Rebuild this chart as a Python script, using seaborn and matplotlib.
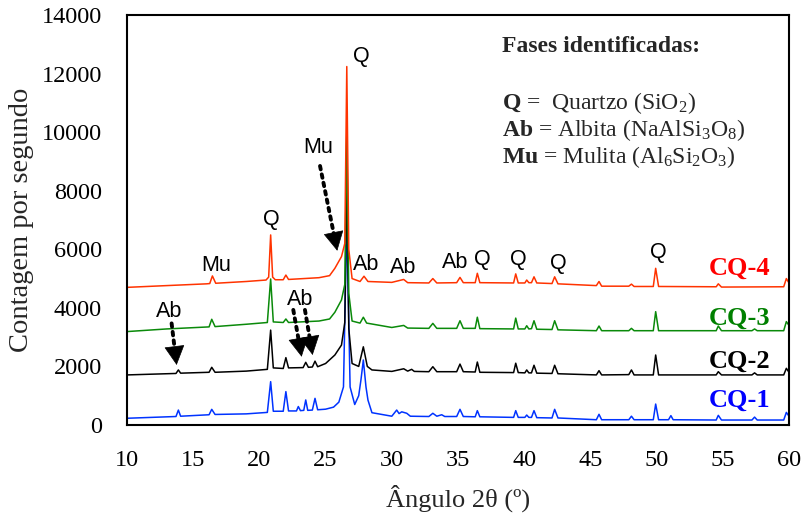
import matplotlib
matplotlib.use("Agg")
import matplotlib.pyplot as plt
import seaborn as sns
import pandas as pd
import numpy as np

# ---------------- data (vertices) ----------------
cq1_theta = [10.0, 13.7, 13.88, 14.05, 16.2, 16.4, 16.65, 19.0, 20.6, 20.85, 21.05, 21.8, 22.0, 22.2,
             22.8, 22.94, 23.1, 23.35, 23.5, 23.65, 24.0, 24.2, 24.4, 25.0, 25.6, 26.0, 26.35, 26.6,
             26.85, 27.2, 27.5, 27.67, 27.85, 28.05, 28.2, 28.5, 30.0, 30.37, 30.55, 30.75, 31.13,
             31.4, 32.8, 33.1, 33.4, 33.77, 34.0, 34.9, 35.15, 35.4, 36.3, 36.46, 36.65, 39.2, 39.36,
             39.55, 40.05, 40.19, 40.35, 40.55, 40.74, 40.95, 42.1, 42.3, 42.55, 45.45, 45.65, 45.85,
             47.9, 48.1, 48.3, 49.75, 49.93, 50.15, 50.9, 51.08, 51.25, 54.5, 54.66, 54.9, 57.2, 57.4,
             57.6, 59.6, 59.8, 60.0]
cq1_counts = [230, 290, 510, 300, 350, 535, 360, 380, 430, 1480, 470, 470, 1140, 480,
              480, 630, 490, 500, 855, 500, 510, 910, 520, 540, 610, 780, 1300, 7000,
              1300, 700, 1000, 1540, 2220, 1300, 850, 420, 300, 510, 390, 450, 400,
              300, 290, 400, 300, 350, 290, 290, 535, 290, 280, 490, 280, 260, 490,
              260, 260, 340, 260, 260, 490, 250, 240, 535, 240, 180, 365, 180,
              180, 300, 180, 180, 715, 180, 180, 320, 180, 170, 330, 170, 170, 270,
              170, 170, 430, 300]

cq2_theta = [10.0, 13.7, 13.88, 14.05, 16.2, 16.4, 16.65, 19.0, 20.6, 20.85, 21.05, 21.8, 22.0, 22.2,
             23.3, 23.5, 23.7, 24.0, 24.2, 24.4, 25.0, 25.7, 26.2, 26.45, 26.6, 26.75, 27.0, 27.5,
             27.85, 28.15, 28.5, 30.0, 30.9, 31.2, 31.5, 31.7, 32.8, 33.1, 33.4, 34.9, 35.15, 35.4,
             36.3, 36.46, 36.65, 39.2, 39.36, 39.55, 40.05, 40.19, 40.35, 40.55, 40.74, 40.95, 42.1,
             42.3, 42.55, 45.45, 45.65, 45.85, 47.9, 48.1, 48.3, 49.75, 49.93, 50.15, 54.5, 54.66,
             54.9, 57.2, 57.4, 57.6, 59.6, 59.8, 60.0]
cq2_counts = [1710, 1760, 1880, 1770, 1800, 1970, 1800, 1840, 1900, 3240, 1950, 1930, 2300, 1950,
              1960, 2140, 1970, 1980, 2180, 1990, 2100, 2390, 2730, 3500, 8500, 3300, 2100, 2000,
              2670, 2000, 1880, 1830, 1920, 1840, 1900, 1830, 1820, 1990, 1820, 1820, 2080, 1820,
              1810, 2150, 1800, 1790, 2110, 1790, 1780, 1880, 1780, 1780, 2040, 1770, 1760,
              2040, 1750, 1710, 1855, 1710, 1720, 1880, 1710, 1710, 2390, 1710, 1710, 1820,
              1710, 1710, 1780, 1710, 1710, 1935, 1800]

cq3_theta = [10.0, 13.0, 16.2, 16.4, 16.65, 19.0, 20.6, 20.85, 21.05, 21.8, 22.0, 22.2, 24.5, 25.3,
             25.7, 26.2, 26.45, 26.6, 26.75, 27.0, 27.6, 27.85, 28.1, 30.0, 30.9, 31.2, 32.8, 33.1,
             33.4, 34.9, 35.15, 35.4, 36.3, 36.46, 36.65, 39.2, 39.36, 39.55, 40.05, 40.19, 40.35,
             40.55, 40.74, 40.95, 42.1, 42.3, 42.55, 45.45, 45.65, 45.85, 47.9, 48.1, 48.3, 49.75,
             49.93, 50.15, 54.5, 54.66, 54.9, 57.2, 57.4, 57.6, 59.6, 59.8, 60.0]
cq3_counts = [3190, 3280, 3350, 3610, 3360, 3440, 3500, 4985, 3520, 3500, 3620, 3500, 3550, 3620,
              3850, 4270, 4800, 10000, 4500, 3550, 3480, 3680, 3480, 3330, 3400, 3310, 3300, 3470,
              3300, 3300, 3560, 3300, 3300, 3680, 3290, 3280, 3650, 3280, 3280, 3390, 3280,
              3290, 3560, 3270, 3260, 3560, 3250, 3220, 3380, 3220, 3220, 3300, 3220, 3220,
              3870, 3220, 3220, 3380, 3220, 3220, 3280, 3220, 3220, 3530, 3400]

cq4_theta = [10.0, 13.0, 16.0, 16.25, 16.45, 16.7, 19.0, 20.5, 20.7, 20.85, 21.0, 21.2, 21.8, 22.0,
             22.2, 24.5, 25.3, 25.7, 26.2, 26.45, 26.6, 26.75, 27.0, 27.6, 27.9, 28.2, 30.0, 30.9,
             31.2, 32.8, 33.1, 33.4, 34.9, 35.15, 35.4, 36.3, 36.46, 36.65, 39.2, 39.36, 39.55,
             40.05, 40.19, 40.35, 40.55, 40.74, 40.95, 42.1, 42.3, 42.55, 45.45, 45.65, 45.85, 47.9,
             48.1, 48.3, 49.75, 49.93, 50.15, 54.5, 54.66, 54.9, 59.6, 59.8, 60.0]
cq4_counts = [4700, 4760, 4820, 4830, 5090, 4840, 4900, 4950, 5050, 6490, 5050, 4960, 4960, 5120,
              4970, 5030, 5100, 5350, 5750, 6200, 12240, 6000, 5000, 4900, 5080, 4900, 4870, 4970,
              4860, 4850, 5000, 4850, 4860, 5040, 4860, 4860, 5180, 4860, 4850, 5160, 4850,
              4850, 4950, 4860, 4860, 5060, 4850, 4830, 5060, 4820, 4760, 4900, 4740, 4740,
              4810, 4730, 4730, 5350, 4730, 4720, 4820, 4710, 4720, 5000, 4850]

series_names = ["CQ-1", "CQ-2", "CQ-3", "CQ-4"]
line_colors = ["#0033FF", "#000000", "#0A8A0A", "#FF3300"]
label_colors = ["#0000FF", "#000000", "#008000", "#FF0000"]

# peak labels: (text, 2theta, counts)
peak_labels = [("Mu", 16.72, 5270), ("Q", 20.88, 6830), ("Ab", 13.18, 3700), ("Ab", 23.07, 4100),
               ("Ab", 28.05, 5290), ("Mu", 24.43, 9280), ("Q", 27.67, 12400), ("Ab", 30.85, 5200),
               ("Ab", 34.82, 5360), ("Q", 36.8, 5460), ("Q", 39.58, 5460), ("Q", 42.55, 5320),
               ("Q", 50.1, 5690)]

# arrows: (start 2theta, start counts, tip 2theta, tip counts)
arrows = [(24.58, 8845, 25.88, 5950), (13.37, 3470, 13.75, 2050),
          (22.56, 3930, 23.19, 2330), (23.44, 3930, 24.02, 2390)]

# series name labels: 2theta of right edge, baseline counts
name_label_x = 58.56
name_label_y = [625, 1945, 3415, 5120]

# ---------------- build table ----------------
frames = []
for name, th, ct in zip(series_names,
                        [cq1_theta, cq2_theta, cq3_theta, cq4_theta],
                        [cq1_counts, cq2_counts, cq3_counts, cq4_counts]):
    frames.append(pd.DataFrame({"theta": th, "counts": ct, "serie": name}))
df = pd.concat(frames, ignore_index=True)

sns.set_theme(style="white")
plt.rcParams["font.family"] = ["Liberation Serif", "DejaVu Serif"]
plt.rcParams["mathtext.fontset"] = "custom"
plt.rcParams["mathtext.rm"] = "Liberation Serif"
plt.rcParams["mathtext.it"] = "Liberation Serif:italic"
plt.rcParams["mathtext.bf"] = "Liberation Serif:bold"

fig = plt.figure(figsize=(8.09, 5.14), dpi=100)
ax = fig.add_axes([127 / 809, 89 / 514, 662 / 809, 410 / 514])

sns.lineplot(data=df, x="theta", y="counts", hue="serie", hue_order=series_names,
             palette=line_colors, estimator=None, sort=False, linewidth=1.1,
             legend=False, ax=ax)

ax.set_xlim(10, 60)
ax.set_ylim(0, 14000)
ax.set_xticks(range(10, 61, 5))
ax.set_yticks(range(0, 14001, 2000))
ax.tick_params(axis="both", direction="in", length=5, width=1.2, labelsize=17.5,
               colors="black")
ax.tick_params(axis="x", pad=18)
ax.tick_params(axis="y", pad=18)
for s in ax.spines.values():
    s.set_visible(True)
    s.set_color("black")
    s.set_linewidth(1.5)

ax.set_xlabel("Ângulo 2θ (º)", fontsize=19)
ax.xaxis.label.set_va("baseline")
ax.xaxis.set_label_coords(0.5, (425 - 506.5) / 410)
ax.set_ylabel("Contagem por segundo", fontsize=20.5)
ax.yaxis.label.set_va("center")
ax.yaxis.set_label_coords((22 - 127) / 662, 0.5)

for txt, x, y in peak_labels:
    ax.text(x, y, txt, ha="center", va="baseline", fontsize=15.5,
            family=["Liberation Sans", "DejaVu Sans"], color="black")

# dotted arrows with solid triangular heads
fig.canvas.draw()
for x0, y0, x1, y1 in arrows:
    p0 = ax.transData.transform((x0, y0))
    p1 = ax.transData.transform((x1, y1))
    u = (p1 - p0) / np.hypot(*(p1 - p0))
    line_end = ax.transData.inverted().transform(p1 - u * 10)
    head_start = ax.transData.inverted().transform(p1 - u * 18)
    ax.annotate("", xy=tuple(line_end), xytext=(x0, y0),
                arrowprops=dict(arrowstyle="-", linestyle=(0, (0.9, 1.3)), lw=2.8,
                                color="black", shrinkA=0, shrinkB=0))
    ax.annotate("", xy=(x1, y1), xytext=tuple(head_start),
                arrowprops=dict(arrowstyle="-|>,head_length=0.85,head_width=0.45",
                                lw=0.5, color="black", shrinkA=0, shrinkB=0,
                                mutation_scale=15))

for name, y, c in zip(series_names, name_label_y, label_colors):
    ax.text(name_label_x, y, name, ha="right", va="baseline", fontsize=19,
            fontweight="bold", color=c)

fx = 502 / 809
fig.text(fx, 1 - 51.7 / 514, "Fases identificadas:", fontsize=17, fontweight="bold",
         va="baseline", ha="left")
fig.text(fx, 1 - 109 / 514, r"$\mathbf{Q}$ =  Quartzo (SiO$_2$)", fontsize=17,
         va="baseline", ha="left")
fig.text(fx, 1 - 136 / 514, r"$\mathbf{Ab}$ = Albita (NaAlSi$_3$O$_8$)", fontsize=17,
         va="baseline", ha="left")
fig.text(fx, 1 - 163 / 514, r"$\mathbf{Mu}$ = Mulita (Al$_6$Si$_2$O$_3$)", fontsize=17,
         va="baseline", ha="left")

fig.savefig("out.png", dpi=100)
